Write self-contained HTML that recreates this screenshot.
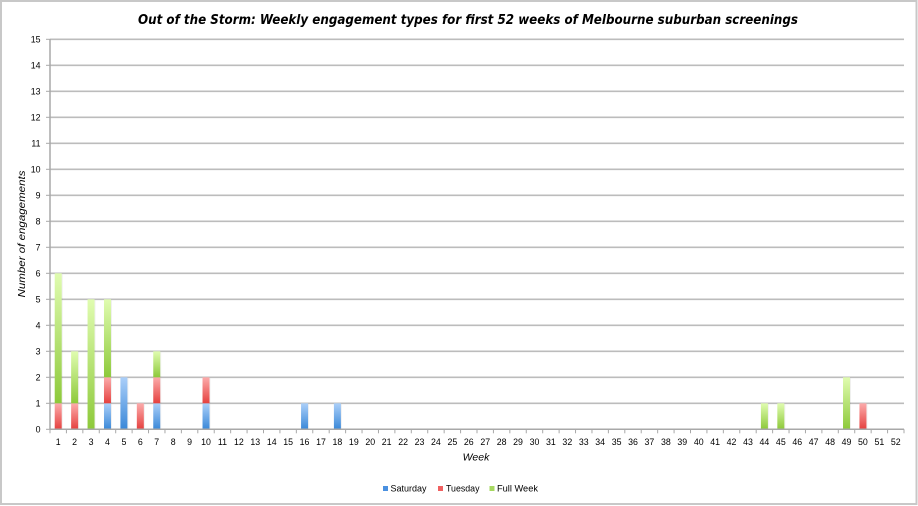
<!DOCTYPE html>
<html><head><meta charset="utf-8"><style>
html,body{margin:0;padding:0;background:#fff;}
svg{display:block;}
</style></head><body>
<svg width="918" height="506" viewBox="0 0 918 506" xmlns="http://www.w3.org/2000/svg">
<defs>
<linearGradient id="gb" x1="0" y1="0" x2="0" y2="1"><stop offset="0" stop-color="#abcff9"/><stop offset="1" stop-color="#3a88d8"/></linearGradient>
<linearGradient id="gr" x1="0" y1="0" x2="0" y2="1"><stop offset="0" stop-color="#fcabab"/><stop offset="1" stop-color="#e5413f"/></linearGradient>
<linearGradient id="gg" x1="0" y1="0" x2="0" y2="1"><stop offset="0" stop-color="#e0fcb0"/><stop offset="1" stop-color="#8dc93a"/></linearGradient>
</defs>
<rect x="1" y="1" width="915.5" height="503" fill="#fff" stroke="#c8c8c8" stroke-width="2"/>
<text x="468" y="24" font-family="DejaVu Sans, sans-serif" font-weight="bold" font-style="italic" font-size="13" textLength="660" lengthAdjust="spacingAndGlyphs" text-anchor="middle" fill="#000">Out of the Storm: Weekly engagement types for first 52 weeks of Melbourne suburban screenings</text>
<g id="grid" stroke="#bcbcbc" stroke-width="1.6"></g>
<g id="bars"></g>
<g id="axes"></g>
<g id="labels" font-family="Liberation Sans, sans-serif" font-size="8.8" fill="#000"></g>
<text transform="translate(25,234) rotate(-90)" font-family="Liberation Sans, sans-serif" font-style="italic" font-size="10" textLength="127" lengthAdjust="spacingAndGlyphs" text-anchor="middle">Number of engagements</text>
<text x="476" y="460.5" font-family="Liberation Sans, sans-serif" font-style="italic" font-size="10.5" text-anchor="middle">Week</text>
<rect x="383" y="486" width="5" height="5" fill="#4a90e0"/>
<text x="390.5" y="491.5" font-family="Liberation Sans, sans-serif" font-size="9" textLength="36" lengthAdjust="spacingAndGlyphs">Saturday</text>
<rect x="438" y="486" width="5" height="5" fill="#f06060"/>
<text x="446" y="491.5" font-family="Liberation Sans, sans-serif" font-size="9" textLength="33.5" lengthAdjust="spacingAndGlyphs">Tuesday</text>
<rect x="489.5" y="486" width="5" height="5" fill="#a6d860"/>
<text x="497" y="491.5" font-family="Liberation Sans, sans-serif" font-size="9" textLength="41" lengthAdjust="spacingAndGlyphs">Full Week</text>
</svg>
<script>
(function(){
var NS="http://www.w3.org/2000/svg";
var x0=50,x1=904,y0=429.3,u=26,w=(x1-x0)/52;
function el(n,a,p,t){var e=document.createElementNS(NS,n);for(var k in a)e.setAttribute(k,a[k]);if(t!=null)e.textContent=t;p.appendChild(e);return e;}
var grid=document.getElementById("grid"),bars=document.getElementById("bars"),axes=document.getElementById("axes"),lab=document.getElementById("labels");
for(var i=1;i<=15;i++){var y=y0-i*u;el("line",{x1:x0,y1:y,x2:x1,y2:y},grid);}
for(var i=0;i<=15;i++){var y=y0-i*u;el("line",{x1:46,y1:y,x2:x0,y2:y,stroke:"#a8a8a8","stroke-width":"1"},axes);el("text",{x:40.5,y:y+3,"text-anchor":"end"},lab,String(i));}
el("line",{x1:x0,y1:39,x2:x0,y2:y0,stroke:"#a8a8a8","stroke-width":"1.5"},axes);
el("line",{x1:x0,y1:y0,x2:x1,y2:y0,stroke:"#a8a8a8","stroke-width":"1.5"},axes);
for(var k=0;k<=52;k++){var x=x0+k*w;el("line",{x1:x,y1:y0,x2:x,y2:y0+4,stroke:"#a8a8a8","stroke-width":"1"},axes);}
for(var k=1;k<=52;k++){var cx=x0+(k-0.5)*w;el("text",{x:cx,y:445,"text-anchor":"middle"},lab,String(k));}
var data={1:[0,1,5],2:[0,1,2],3:[0,0,5],4:[1,1,3],5:[2,0,0],6:[0,1,0],7:[1,1,1],10:[1,1,0],16:[1,0,0],18:[1,0,0],44:[0,0,1],45:[0,0,1],49:[0,0,2],50:[0,1,0]};
var fills=["url(#gb)","url(#gr)","url(#gg)"];
var bw=7;
for(var k in data){var d=data[k];var cx=x0+(k-0.5)*w;var base=0;
for(var s=0;s<3;s++){if(d[s]>0){var yt=y0-(base+d[s])*u;var h=d[s]*u;
el("rect",{x:cx-bw/2+1,y:yt+1,width:bw,height:h-1,fill:"#000","fill-opacity":"0.06"},bars);
el("rect",{x:cx-bw/2,y:yt,width:bw,height:h,fill:fills[s]},bars);base+=d[s];}}}
})();
</script>
</body></html>
